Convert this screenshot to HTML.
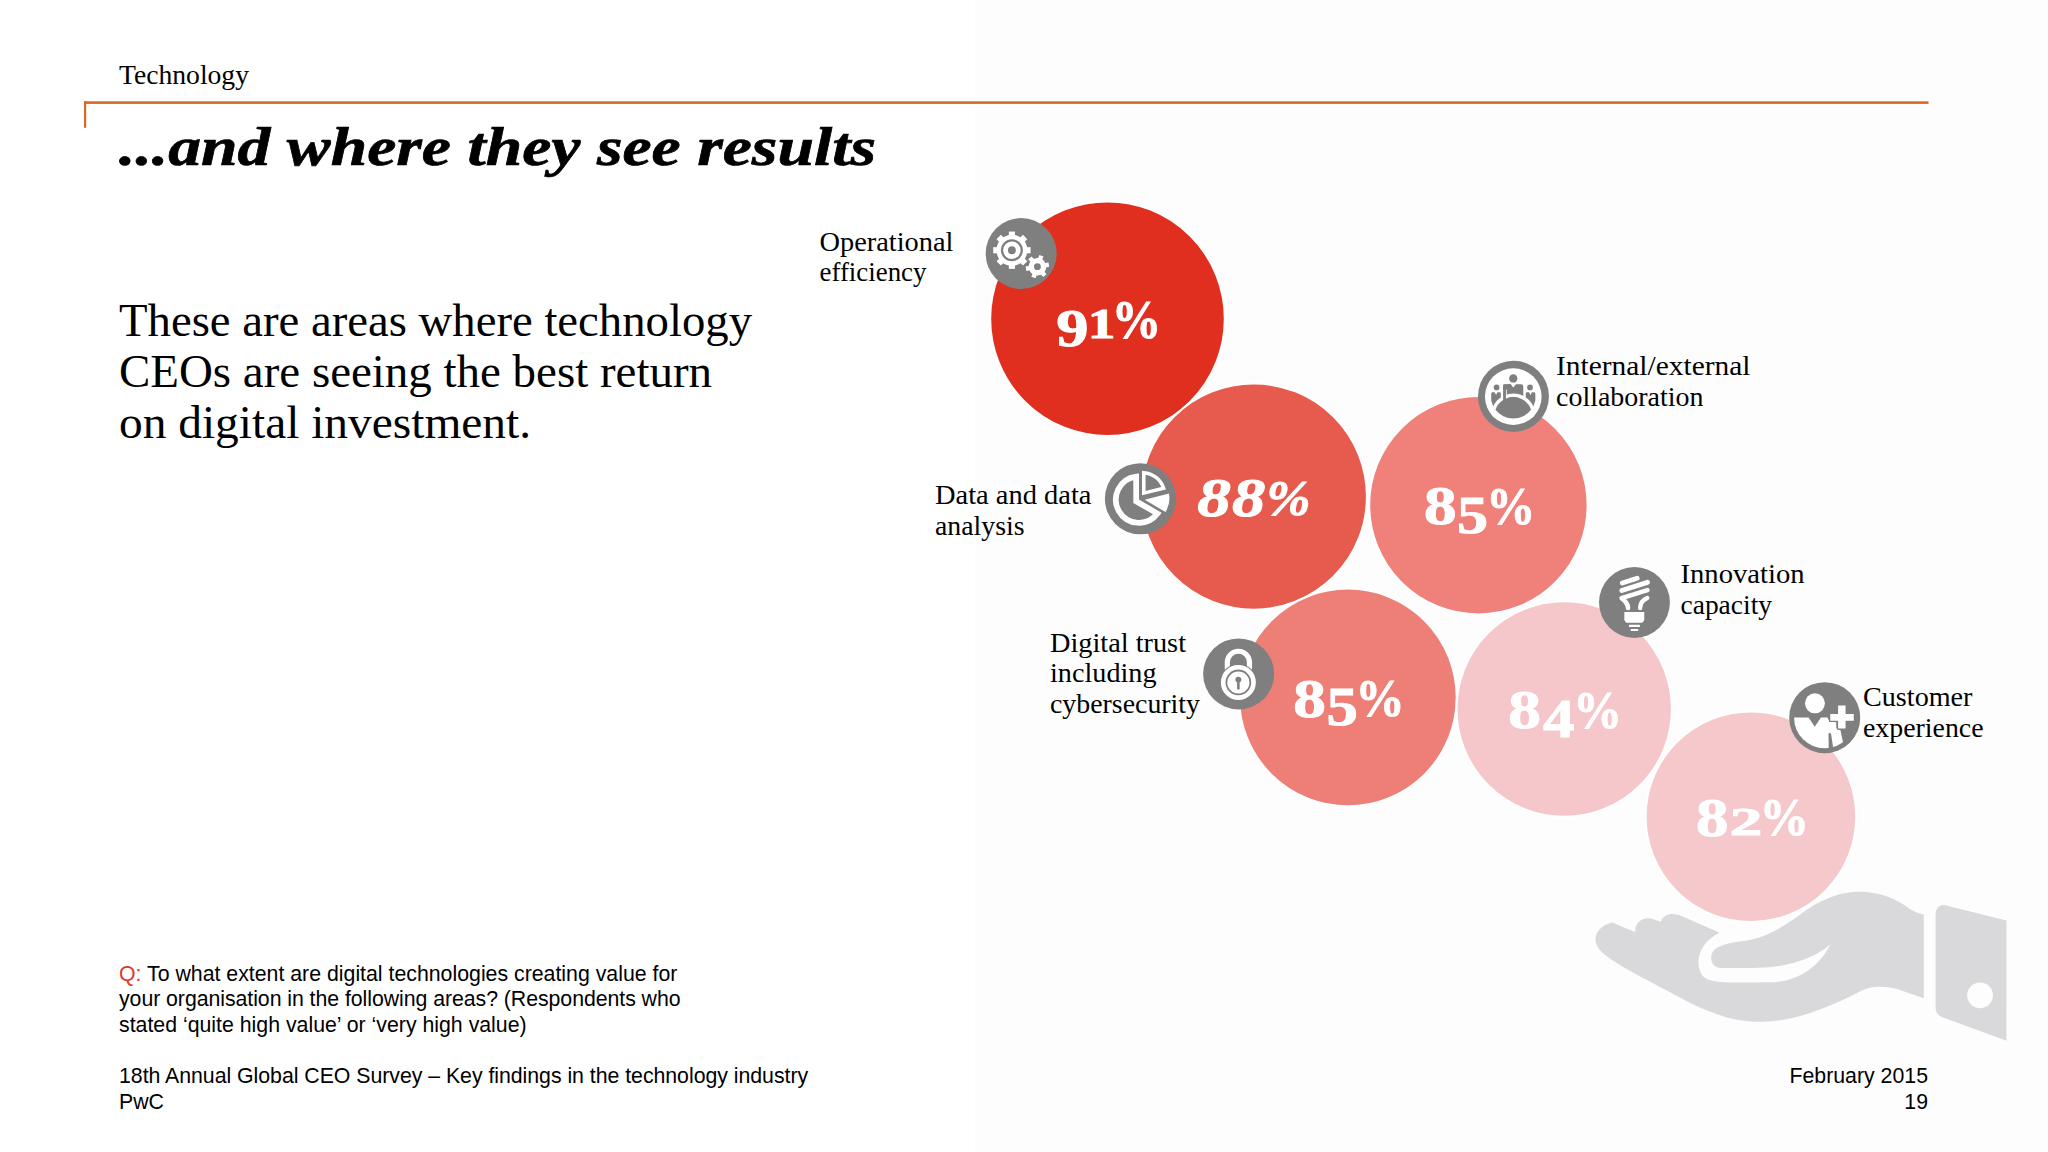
<!DOCTYPE html>
<html><head><meta charset="utf-8">
<style>
html,body{margin:0;padding:0;background:#fff;}
body{width:2048px;height:1152px;overflow:hidden;position:relative;}
svg{position:absolute;left:0;top:0;}
.serif{font-family:"Liberation Serif",serif;}
.sans{font-family:"Liberation Sans",sans-serif;}
</style></head>
<body>
<svg width="2048" height="1152" viewBox="0 0 2048 1152">
<!-- panel -->
<rect x="975" y="0" width="1073" height="1152" fill="#fdfdfd"/>
<!-- header line -->
<rect x="84" y="101.3" width="1844.5" height="2.6" fill="#d46a26"/>
<rect x="84" y="101.3" width="2.2" height="26.5" fill="#d46a26"/>

<g class="serif" fill="#000">
<text x="119" y="84.3" font-size="28" textLength="130" lengthAdjust="spacingAndGlyphs">Technology</text>
<text x="119" y="164.8" font-size="54.5" font-weight="bold" font-style="italic" stroke="#000" stroke-width="0.7" textLength="757" lengthAdjust="spacingAndGlyphs">...and where they see results</text>
<g font-size="46">
<text x="119" y="336" textLength="633" lengthAdjust="spacingAndGlyphs">These are areas where technology</text>
<text x="119" y="386.7" textLength="593" lengthAdjust="spacingAndGlyphs">CEOs are seeing the best return</text>
<text x="119" y="437.7" textLength="412" lengthAdjust="spacingAndGlyphs">on digital investment.</text>
</g>
<g font-size="28">
<text x="819.5" y="250.9" textLength="134" lengthAdjust="spacingAndGlyphs">Operational</text>
<text x="819.5" y="281.3" textLength="107" lengthAdjust="spacingAndGlyphs">efficiency</text>
<text x="935" y="503.6" textLength="156.5" lengthAdjust="spacingAndGlyphs">Data and data</text>
<text x="935" y="534.8" textLength="89.5" lengthAdjust="spacingAndGlyphs">analysis</text>
<text x="1050" y="651.5" textLength="136" lengthAdjust="spacingAndGlyphs">Digital trust</text>
<text x="1050" y="682.1" textLength="106.5" lengthAdjust="spacingAndGlyphs">including</text>
<text x="1050" y="712.6" textLength="150" lengthAdjust="spacingAndGlyphs">cybersecurity</text>
<text x="1556" y="375.3" textLength="194.5" lengthAdjust="spacingAndGlyphs">Internal/external</text>
<text x="1556" y="405.7" textLength="147.5" lengthAdjust="spacingAndGlyphs">collaboration</text>
<text x="1680.5" y="583.2" textLength="124" lengthAdjust="spacingAndGlyphs">Innovation</text>
<text x="1680.5" y="613.6" textLength="91.5" lengthAdjust="spacingAndGlyphs">capacity</text>
<text x="1863" y="705.8" textLength="109.5" lengthAdjust="spacingAndGlyphs">Customer</text>
<text x="1863" y="736.5" textLength="120.5" lengthAdjust="spacingAndGlyphs">experience</text>
</g>
</g>

<g class="sans" font-size="21.3" fill="#000">
<text x="119" y="980.8"><tspan fill="#db3d27">Q:</tspan> To what extent are digital technologies creating value for</text>
<text x="119" y="1005.8" textLength="561.6" lengthAdjust="spacing">your organisation in the following areas? (Respondents who</text>
<text x="119" y="1031.6">stated ‘quite high value’ or ‘very high value)</text>
<text x="119" y="1083" textLength="689.1" lengthAdjust="spacing">18th Annual Global CEO Survey – Key findings in the technology industry</text>
<text x="119" y="1108.6">PwC</text>
<text x="1928" y="1083" text-anchor="end">February 2015</text>
<text x="1928" y="1108.6" text-anchor="end">19</text>
</g>


<!-- HAND -->
<g transform="translate(1580,880) scale(0.214844)" fill="#d9d8da">
<path d="M150,198 L258,243 C252,200 292,168 335,180 L376,194 C388,158 432,150 472,168 L650,245 C565,285 528,370 566,440 C596,484 680,478 900,476 C1010,470 1110,410 1165,300 C1080,372 950,410 800,410 L655,410 C612,406 598,362 622,328 C650,298 720,290 765,284 C870,266 955,215 1050,142 C1150,75 1230,55 1300,55 C1410,55 1490,100 1535,135 C1560,150 1580,157 1600,160 L1600,550 L1480,508 C1400,490 1350,495 1300,520 C1150,600 980,660 850,660 C700,660 600,622 400,512 C250,432 130,372 90,322 C55,282 70,218 150,198 Z"/>
<path d="M1700,118 L1985,188 L1985,748 L1690,640 C1665,630 1655,615 1655,590 L1655,165 C1655,130 1675,112 1700,118 Z"/>
<circle cx="1862" cy="537" r="60" fill="#fdfdfd"/>
</g>

<!-- BUBBLES -->
<g stroke="#fff" stroke-width="2">
<circle cx="1107.5" cy="318.7" r="117.3" fill="#e12f1f"/>
<circle cx="1253.8" cy="496.6" r="113.1" fill="#e65b4d"/>
<circle cx="1478.4" cy="505.2" r="109.2" fill="#ef817a"/>
<circle cx="1347.9" cy="697.4" r="108.8" fill="#ed7f77"/>
<circle cx="1564.2" cy="709" r="107.7" fill="#f5c7ca"/>
<circle cx="1750.9" cy="816.7" r="105.3" fill="#f5c8cb"/>
</g>

<g class="serif" font-weight="bold" fill="#fff" stroke="#fff" stroke-width="1">
<text transform="matrix(1.2057 0 0 1 1056.33 345.88)" font-size="53.58">9</text>
<text transform="matrix(1.3106 0 0 1 1087.93 337.90)" font-size="41.66">1</text>
<text transform="matrix(0.8934 0 0 1 1111.73 338.17)" font-size="55.29">%</text>
<text transform="matrix(1.2235 0 0 1 1197.18 515.96)" font-size="54.98" font-style="italic">8</text>
<text transform="matrix(1.2118 0 0 1 1232.00 515.96)" font-size="54.98" font-style="italic">8</text>
<text transform="matrix(1.0212 0 0 1 1266.40 514.92)" font-size="51.61" font-style="italic">%</text>
<text transform="matrix(1.1968 0 0 1 1423.93 524.47)" font-size="54.53">8</text>
<text transform="matrix(1.1564 0 0 1 1457.01 532.68)" font-size="53.72">5</text>
<text transform="matrix(0.9185 0 0 1 1486.17 524.00)" font-size="53.37">%</text>
<text transform="matrix(1.1985 0 0 1 1293.33 716.72)" font-size="54.46">8</text>
<text transform="matrix(1.1615 0 0 1 1326.38 724.67)" font-size="54.10">5</text>
<text transform="matrix(0.9195 0 0 1 1355.46 716.30)" font-size="53.45">%</text>
<text transform="matrix(1.2067 0 0 1 1508.33 727.87)" font-size="54.09">8</text>
<text transform="matrix(1.1372 0 0 1 1542.94 736.90)" font-size="55.45">4</text>
<text transform="matrix(0.9214 0 0 1 1573.30 727.70)" font-size="52.93">%</text>
<text transform="matrix(1.1894 0 0 1 1696.04 835.77)" font-size="54.68">8</text>
<text transform="matrix(1.6132 0 0 1 1729.77 835.40)" font-size="40.33">2</text>
<text transform="matrix(0.9259 0 0 1 1759.66 835.00)" font-size="53.08">%</text>
</g>

<!-- ICONS -->
<!-- gear -->
<g transform="translate(980,212) scale(0.071181)">
<circle cx="578.5" cy="583.5" r="499" fill="#7f7f7f"/>
<g fill="#fff">
<circle cx="448" cy="537" r="217"/>
<g transform="translate(448,537)">
<rect x="-43" y="-262" width="86" height="90"/>
<rect x="-43" y="-262" width="86" height="90" transform="rotate(45)"/>
<rect x="-43" y="-262" width="86" height="90" transform="rotate(90)"/>
<rect x="-43" y="-262" width="86" height="90" transform="rotate(135)"/>
<rect x="-43" y="-262" width="86" height="90" transform="rotate(180)"/>
<rect x="-43" y="-262" width="86" height="90" transform="rotate(225)"/>
<rect x="-43" y="-262" width="86" height="90" transform="rotate(270)"/>
<rect x="-43" y="-262" width="86" height="90" transform="rotate(315)"/>
</g>
</g>
<circle cx="448" cy="537" r="139" fill="none" stroke="#7f7f7f" stroke-width="32"/>
<circle cx="448" cy="537" r="55" fill="#7f7f7f"/>
<g transform="translate(806.5,768.5)">
<g fill="#7f7f7f" stroke="#7f7f7f" stroke-width="22" stroke-linejoin="round">
<circle r="124"/>
<rect x="-31" y="-163" width="62" height="55" transform="rotate(20)"/>
<rect x="-31" y="-163" width="62" height="55" transform="rotate(80)"/>
<rect x="-31" y="-163" width="62" height="55" transform="rotate(140)"/>
<rect x="-31" y="-163" width="62" height="55" transform="rotate(200)"/>
<rect x="-31" y="-163" width="62" height="55" transform="rotate(260)"/>
<rect x="-31" y="-163" width="62" height="55" transform="rotate(320)"/>
</g>
<g fill="#fff">
<circle r="124"/>
<rect x="-31" y="-163" width="62" height="55" transform="rotate(20)"/>
<rect x="-31" y="-163" width="62" height="55" transform="rotate(80)"/>
<rect x="-31" y="-163" width="62" height="55" transform="rotate(140)"/>
<rect x="-31" y="-163" width="62" height="55" transform="rotate(200)"/>
<rect x="-31" y="-163" width="62" height="55" transform="rotate(260)"/>
<rect x="-31" y="-163" width="62" height="55" transform="rotate(320)"/>
</g>
<circle r="48" fill="#7f7f7f"/>
</g>
</g>

<!-- pie -->
<g transform="translate(1100,458) scale(0.071181)">
<circle cx="568" cy="572.5" r="500" fill="#7f7f7f"/>
<path d="M508,608 L508,262.5 A325,325 0 1 0 807.4,780.8 Z" fill="#7f7f7f" stroke="#fff" stroke-width="80" stroke-linejoin="miter"/>
<path d="M615,493.2 L615,206 A320,320 0 0 1 894.2,425.7 Z" fill="#7f7f7f" stroke="#fff" stroke-width="50" stroke-linejoin="miter"/>
<path d="M628,588 L968,500 A350,350 0 0 1 920,758 Z" fill="#fff"/>
</g>

<!-- lock -->
<g transform="translate(1198,633) scale(0.071181)">
<circle cx="571" cy="575" r="499" fill="#7f7f7f"/>
<path d="M412,540 L412,412 A155.5,155.5 0 0 1 723,412 L723,540" fill="none" stroke="#fff" stroke-width="73"/>
<circle cx="567" cy="695" r="262" fill="#7f7f7f"/>
<circle cx="567" cy="695" r="246" fill="#fff"/>
<circle cx="567" cy="695" r="168" fill="none" stroke="#7f7f7f" stroke-width="25"/>
<circle cx="567" cy="655" r="42" fill="#7f7f7f"/>
<rect x="549" y="650" width="36" height="142" rx="6" fill="#7f7f7f"/>
</g>

<!-- collab -->
<g transform="translate(1472,355) scale(0.071181)">
<defs><clipPath id="cdisc"><circle cx="580" cy="585" r="398"/></clipPath></defs>
<circle cx="582.5" cy="581" r="499" fill="#7f7f7f"/>
<circle cx="580" cy="585" r="398" fill="#fff"/>
<g fill="#7f7f7f">
<circle cx="580" cy="330" r="58"/>
<path d="M440,440 Q440,410 470,410 L542,410 L580,458 L618,410 L690,410 Q720,410 720,440 L720,600 L480,600 L480,500 L440,500 Z"/>
<circle cx="345" cy="455" r="40"/>
<path d="M270,545 Q270,525 290,525 L318,525 L338,562 L358,525 L388,525 Q405,525 405,545 L405,600 L300,730 L270,640 Z"/>
<circle cx="815" cy="455" r="40"/>
<path d="M890,545 Q890,525 870,525 L842,525 L822,562 L802,525 L772,525 Q755,525 755,545 L755,600 L860,730 L890,640 Z"/>
</g>
<g clip-path="url(#cdisc)">
<circle cx="580" cy="854" r="288" fill="none" stroke="#fff" stroke-width="48"/>
</g>
<path d="M457,430 L457,648" stroke="#fff" stroke-width="62" stroke-linecap="round" fill="none"/>
<path d="M457,430 L457,648" stroke="#7f7f7f" stroke-width="40" stroke-linecap="round" fill="none"/>
<path d="M437,445 Q437,410 470,410 L542,410 L560,433 L560,485 L437,485 Z" fill="#7f7f7f"/>
<path d="M330,770 A264,264 0 0 1 830,770 A315,315 0 0 1 330,770 Z" fill="#7f7f7f"/>
</g>

<!-- bulb -->
<g transform="translate(1593,561) scale(0.071181)">
<circle cx="582.5" cy="582.5" r="498" fill="#7f7f7f"/>
<g fill="none" stroke="#fff" stroke-linecap="round" stroke-linejoin="round">
<path d="M412,310 L620,243" stroke-width="68"/>
<path d="M405,415 L765,300" stroke-width="68"/>
<path d="M765,410 L402,522 C452,560 490,600 492,660" stroke-width="64"/>
<path d="M762,520 C700,548 662,592 662,660" stroke-width="62"/>
</g>
<path d="M440,715 L720,715 L720,820 Q720,860 690,866 L470,866 Q440,860 440,820 Z" fill="#fff"/>
<rect x="505" y="897" width="155" height="30" rx="8" fill="#fff"/>
<rect x="530" y="955" width="105" height="28" rx="8" fill="#fff"/>
</g>

<!-- customer -->
<g transform="translate(1784,677) scale(0.071181)">
<defs><clipPath id="cbody"><circle cx="572" cy="572" r="430"/></clipPath></defs>
<circle cx="572" cy="571" r="499" fill="#7f7f7f"/>
<circle cx="435" cy="370" r="140" fill="#fff"/>
<path clip-path="url(#cbody)" d="M100,570 L345,570 L432,700 L520,570 L610,570 L640,630 L735,635 L735,720 L790,735 L830,920 L830,1100 L100,1100 Z" fill="#fff"/>
<path d="M625,790 L660,790 L692,1000 L628,1010 Z" fill="#7f7f7f"/>
<g fill="#fff" stroke="#7f7f7f" stroke-width="0">
<path d="M760,400 L865,400 L865,520 L980,520 L980,615 L865,615 L865,725 L760,725 L760,615 L650,615 L650,520 L760,520 Z" stroke-width="36" stroke-linejoin="round" stroke="#7f7f7f"/>
<path d="M760,400 L865,400 L865,520 L980,520 L980,615 L865,615 L865,725 L760,725 L760,615 L650,615 L650,520 L760,520 Z"/>
</g>
</g>

</svg>
</body></html>
